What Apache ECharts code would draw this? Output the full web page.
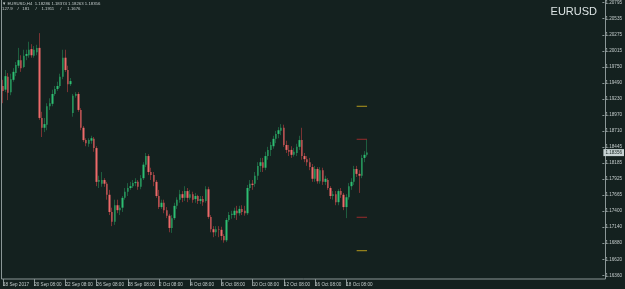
<!DOCTYPE html>
<html>
<head>
<meta charset="utf-8">
<script src="https://cdn.jsdelivr.net/npm/echarts@6/dist/echarts.min.js"></script>
<style>
html,body{margin:0;padding:0;background:#14211f;}
#panel{width:625px;height:289px;}
</style>
</head>
<body>
<div id="panel"></div>
<script>
// EURUSD H4 candles
var opens = [1.1944,1.1938,1.1959,1.1934,1.1954,1.1965,1.1977,1.1986,1.1975,1.1993,
    1.1994,1.2004,1.1993,1.1999,1.2006,1.1892,1.1876,1.1881,1.1911,1.1915,
    1.1931,1.1939,1.1944,1.1959,1.1990,1.1970,1.1947,1.1900,1.1928,1.1931,
    1.1905,1.1876,1.1856,1.1850,1.1855,1.1858,1.1843,1.1788,1.1785,1.1791,
    1.1785,1.1767,1.1739,1.1723,1.1750,1.1742,1.1746,1.1762,1.1772,1.1778,
    1.1781,1.1786,1.1788,1.1780,1.1794,1.1816,1.1830,1.1804,1.1799,1.1788,
    1.1765,1.1747,1.1754,1.1742,1.1733,1.1713,1.1729,1.1749,1.1759,1.1768,
    1.1762,1.1773,1.1762,1.1768,1.1760,1.1765,1.1757,1.1760,1.1757,1.1776,
    1.1731,1.1711,1.1706,1.1711,1.1710,1.1700,1.1693,1.1726,1.1734,1.1734,
    1.1741,1.1737,1.1744,1.1741,1.1737,1.1778,1.1785,1.1785,1.1798,1.1814,
    1.1820,1.1811,1.1830,1.1840,1.1846,1.1858,1.1866,1.1871,1.1876,1.1848,
    1.1840,1.1840,1.1832,1.1835,1.1845,1.1856,1.1830,1.1825,1.1820,1.1812,
    1.1793,1.1809,1.1789,1.1807,1.1788,1.1791,1.1778,1.1765,1.1768,1.1755,
    1.1773,1.1767,1.1747,1.1763,1.1781,1.1788,1.1809,1.1801,1.1798,1.1827,
    1.1832];
var closes = [1.1936,1.1960,1.1933,1.1955,1.1967,1.1978,1.1986,1.1973,1.1993,1.1996,
    1.2003,1.1994,1.2003,1.2006,1.1892,1.1876,1.1882,1.1911,1.1916,1.1931,
    1.1939,1.1944,1.1959,1.1990,1.1970,1.1947,1.1952,1.1928,1.1931,1.1905,
    1.1876,1.1856,1.1851,1.1856,1.1859,1.1843,1.1788,1.1791,1.1791,1.1785,
    1.1767,1.1739,1.1723,1.1750,1.1742,1.1746,1.1762,1.1772,1.1778,1.1781,
    1.1786,1.1788,1.1780,1.1794,1.1816,1.1830,1.1804,1.1799,1.1788,1.1765,
    1.1747,1.1754,1.1742,1.1733,1.1713,1.1729,1.1749,1.1759,1.1768,1.1762,
    1.1773,1.1762,1.1768,1.1759,1.1765,1.1757,1.1760,1.1755,1.1776,1.1731,
    1.1711,1.1706,1.1711,1.1710,1.1700,1.1693,1.1726,1.1734,1.1736,1.1741,
    1.1737,1.1744,1.1739,1.1737,1.1778,1.1785,1.1783,1.1798,1.1814,1.1820,
    1.1811,1.1830,1.1840,1.1848,1.1858,1.1866,1.1872,1.1876,1.1848,1.1840,
    1.1837,1.1832,1.1837,1.1845,1.1856,1.1830,1.1825,1.1820,1.1812,1.1793,
    1.1809,1.1789,1.1807,1.1788,1.1793,1.1778,1.1765,1.1768,1.1755,1.1773,
    1.1767,1.1747,1.1763,1.1781,1.1788,1.1809,1.1801,1.1798,1.1827,1.1832,
    1.18356];
var lows = [1.1916,1.1934,1.1921,1.1929,1.1951,1.1960,1.1973,1.1967,1.1973,1.1986,
    1.1990,1.1990,1.1990,1.1994,1.1889,1.1861,1.1869,1.1872,1.1905,1.1911,
    1.1928,1.1936,1.1941,1.1955,1.1967,1.1934,1.1944,1.1894,1.1925,1.1902,
    1.1872,1.1853,1.1846,1.1845,1.1850,1.1837,1.1781,1.1778,1.1780,1.1780,
    1.1759,1.1734,1.1716,1.1718,1.1737,1.1734,1.1739,1.1759,1.1765,1.1775,
    1.1778,1.1781,1.1775,1.1776,1.1791,1.1812,1.1799,1.1791,1.1781,1.1762,
    1.1744,1.1744,1.1737,1.1729,1.1706,1.1705,1.1726,1.1744,1.1754,1.1755,
    1.1757,1.1755,1.1759,1.1754,1.1754,1.1752,1.1752,1.1749,1.1754,1.1728,
    1.1706,1.1698,1.1700,1.1698,1.1693,1.1689,1.1690,1.1723,1.1728,1.1729,
    1.1726,1.1733,1.1734,1.1733,1.1734,1.1773,1.1775,1.1780,1.1791,1.1804,
    1.1804,1.1807,1.1824,1.1830,1.1842,1.1851,1.1859,1.1864,1.1845,1.1835,
    1.1830,1.1827,1.1829,1.1830,1.1840,1.1824,1.1820,1.1814,1.1807,1.1788,
    1.1788,1.1785,1.1785,1.1783,1.1783,1.1775,1.1760,1.1759,1.1750,1.1750,
    1.1762,1.1742,1.1729,1.1759,1.1775,1.1783,1.1796,1.1770,1.1794,1.1820,
    1.1829];
var highs = [1.1954,1.1970,1.1965,1.1964,1.1973,1.1983,1.2006,1.1994,1.2003,1.2003,
    1.2016,1.2012,1.2009,1.2011,1.2030,1.1902,1.1892,1.1916,1.1924,1.1938,
    1.1944,1.1951,1.1964,1.2003,1.2003,1.1977,1.1957,1.1931,1.1934,1.1934,
    1.1908,1.1879,1.1859,1.1859,1.1863,1.1861,1.1846,1.1798,1.1804,1.1794,
    1.1788,1.1775,1.1746,1.1759,1.1759,1.1750,1.1765,1.1778,1.1786,1.1788,
    1.1791,1.1794,1.1791,1.1799,1.1820,1.1835,1.1833,1.1811,1.1804,1.1791,
    1.1775,1.1759,1.1759,1.1747,1.1736,1.1734,1.1754,1.1763,1.1775,1.1773,
    1.1781,1.1778,1.1775,1.1772,1.1770,1.1767,1.1765,1.1765,1.1781,1.1780,
    1.1734,1.1716,1.1716,1.1716,1.1715,1.1703,1.1729,1.1739,1.1741,1.1746,
    1.1749,1.1749,1.1750,1.1749,1.1783,1.1791,1.1791,1.1804,1.1820,1.1827,
    1.1827,1.1837,1.1845,1.1853,1.1863,1.1871,1.1877,1.1882,1.1881,1.1855,
    1.1848,1.1846,1.1843,1.1850,1.1863,1.1876,1.1835,1.1830,1.1827,1.1817,
    1.1814,1.1812,1.1812,1.1811,1.1798,1.1794,1.1781,1.1773,1.1773,1.1776,
    1.1778,1.1770,1.1768,1.1786,1.1794,1.1814,1.1814,1.1807,1.1832,1.1838,
    1.1857];

// time labels, one every 12 bars (2 trading days)
var tickLabels = ['18 Sep 2017','20 Sep 08:00','22 Sep 08:00','26 Sep 08:00','28 Sep 08:00',
    '2 Oct 08:00','4 Oct 08:00','6 Oct 08:00','10 Oct 08:00','12 Oct 08:00',
    '16 Oct 08:00','18 Oct 08:00'];
var tickEvery = 12;
var slotCount = 231;

// price scale labels, bottom to top
var yLabels = ['1.16360','1.16620','1.16880','1.17140','1.17400','1.17665','1.17925','1.18185','1.18445',
    '1.18710','1.18970','1.19230','1.19490','1.19750','1.20015','1.20275','1.20535','1.20795'];
var yMin = 1.16360;
var yStep = 0.0026088;

// indicator levels drawn on the last bars
var bandLevels = [1.1911, 1.1676];
var dayLevels = [1.18573, 1.17304];
var levelFrom = 136, levelTo = 140;

var headerLine1 = '\u25BC EURUSD,H4  1.18286 1.18374 1.18263 1.18356';
var headerLine2 = '127.9    /   181     /    1.1911     /     1.1676';

var bg = '#14211f';
var frameColor = '#8a9696';
var textColor = '#c4cccc';
var upColor = '#2dbf72', downColor = '#ee6a6a';
var upWick = '#1e5e3f', downWick = '#7a3333';
var bandColor = '#b49a1c', dayColor = '#9a2c2c';
var font = 'Liberation Sans';
var smallFont = 4.6;

var myChart = echarts.init(document.getElementById('panel'));

//short horizontal level over the last few bars
function levelSeries(v, color){
    return {
        type: 'line',
        data: [[levelFrom, v], [levelTo, v]],
        symbol: 'none',
        silent: true,
        lineStyle: {color: color, width: 1},
        z: 3
    };
}

function build(){
    var cats = [];
    for (var i = 0; i < slotCount; i++){
        var k = i / tickEvery;
        cats.push((i % tickEvery == 0 && tickLabels[k]) ? tickLabels[k] : '');
    }
    var wicks = [], bodies = [];
    opens.forEach(function(o, i){
        var c = closes[i];
        wicks.push([o, c, lows[i], highs[i]]);
        bodies.push([o, c, Math.min(o, c), Math.max(o, c)]);
    });
    var yMax = +(yMin + (yLabels.length - 1) * yStep).toFixed(7);
    var showTick = function(idx, val){ return val !== ''; };
    var last = closes[closes.length - 1];

    var series = [{
        type: 'candlestick',
        data: wicks,
        barWidth: 1,
        itemStyle: {color:upWick, color0:downWick, borderColor:upWick, borderColor0:downWick, borderWidth:1}
    },{
        type: 'candlestick',
        data: bodies,
        barWidth: 2,
        itemStyle: {color:upColor, color0:downColor, borderColor:upColor, borderColor0:downColor, borderWidth:0},
        markLine: {
            silent: true,
            precision: 5,
            symbol: ['none','none'],
            lineStyle: {color:'rgba(0,0,0,0)', width:1},
            label: {
                show: true, position: 'end', distance: 1,
                formatter: function(){ return last.toFixed(5); },
                backgroundColor: '#c6d2d2', color: '#14211f',
                fontSize: smallFont, fontFamily: font, padding: [1,2]
            },
            data: [{yAxis: last}]
        }
    }];
    bandLevels.forEach(function(v){ series.push(levelSeries(v, bandColor)); });
    dayLevels.forEach(function(v){ series.push(levelSeries(v, dayColor)); });

    var option = {
        backgroundColor: bg,
        animation: false,
        title: [{
            text: 'EURUSD', right: 28, top: 6, padding: 0,
            textStyle: {color:'#dde5e5', fontSize:11, fontWeight:'normal', fontFamily:font}
        },{
            text: headerLine1, left: 2, top: 1.5, padding: 0,
            textStyle: {color:textColor, fontSize:4.3, fontWeight:'normal', fontFamily:font}
        },{
            text: headerLine2, left: 2, top: 6.8, padding: 0,
            textStyle: {color:textColor, fontSize:4.3, fontWeight:'normal', fontFamily:font}
        }],
        graphic: [{
            type: 'rect', silent: true,
            shape: {x:1.5, y:-0.5, width:604, height:279.5},
            style: {fill:'none', stroke:frameColor, lineWidth:1}
        }],
        grid: {left:1, right:20, top:2.7, bottom:13.7},
        xAxis: {
            type: 'category',
            data: cats,
            boundaryGap: true,
            offset: 3.7,
            axisLine: {show:false},
            axisTick: {show:true, alignWithLabel:true, length:7, interval:showTick, lineStyle:{color:frameColor}},
            axisLabel: {interval:showTick, align:'left', color:textColor, fontSize:smallFont, margin:3, fontFamily:font},
            splitLine: {show:false}
        },
        yAxis: {
            type: 'value',
            position: 'right',
            min: yMin,
            max: yMax,
            interval: yStep,
            axisLine: {show:false},
            axisTick: {show:true, length:2, lineStyle:{color:frameColor}},
            splitLine: {show:false},
            axisLabel: {
                color: textColor, fontSize: smallFont, margin: 3, fontFamily: font,
                formatter: function(v){
                    var k = (v - yMin) / yStep;
                    var r = Math.round(k);
                    if (Math.abs(k - r) > 0.01) return '';
                    return yLabels[r] || '';
                }
            }
        },
        series: series
    };
    myChart.setOption(option);
}

build();
</script>
</body>
</html>
